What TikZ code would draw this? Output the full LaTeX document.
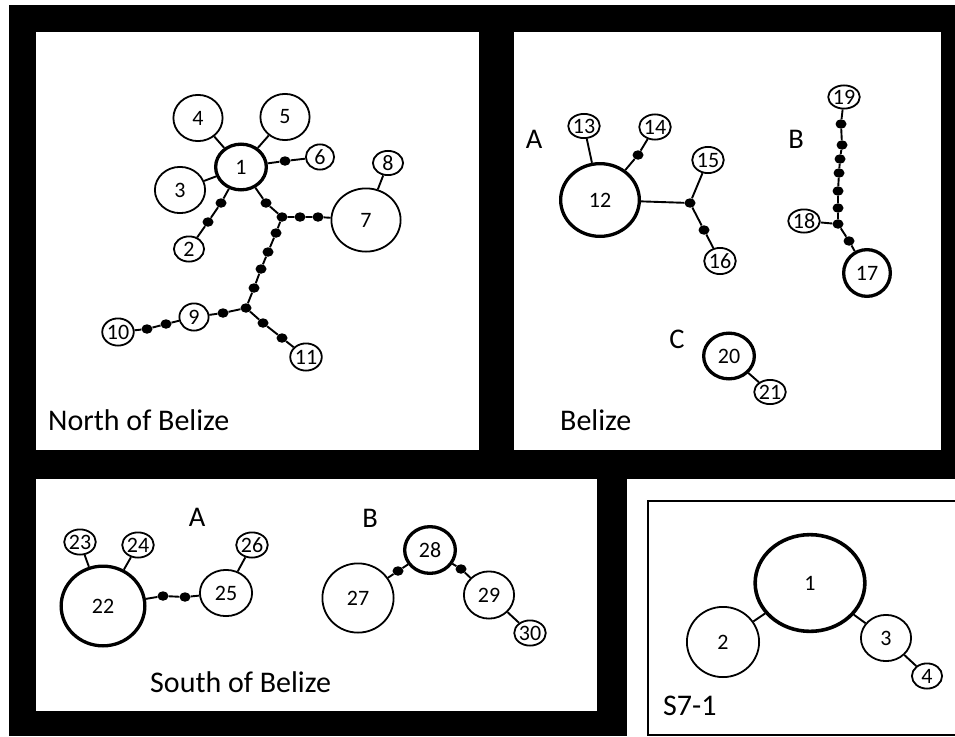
\documentclass[tikz,border=0pt]{standalone}
\usepackage{fontspec}
\setmainfont{Carlito}
\usetikzlibrary{shapes.geometric}
\newcommand\hlab{\fontsize{22}{22}\selectfont}
\newcommand\ptitle{\fontsize{30}{30}\selectfont}
\newcommand\glab{\fontsize{28.5}{28.5}\selectfont}
\tikzset{
  hap/.style 2 args={ellipse, draw, fill=white, line width=1.8pt, inner sep=0pt,
    font=\hlab, minimum width=#1pt-1.8pt, minimum height=#2pt-1.8pt},
  core/.style 2 args={ellipse, draw, fill=white, line width=3.3pt, inner sep=0pt,
    font=\hlab, minimum width=#1pt-3.3pt, minimum height=#2pt-3.3pt},
  mv/.style={ellipse, fill=black, inner sep=0pt, minimum width=11pt, minimum height=9.5pt},
  link/.style={line width=1.9pt},
  ttl/.style={font=\ptitle, anchor=base west, inner sep=0pt},
  grp/.style={font=\glab, inner sep=0pt},
}
\begin{document}
\begin{tikzpicture}[x=1pt, y=-1pt]
\useasboundingbox (0,0) rectangle (955,736);
% frame and panels
\fill[white] (0,0) rectangle (955,736);
\fill[black] (9,5) rectangle (955,736);
\fill[white] (36,32) rectangle (479,450);
\fill[white] (514,32) rectangle (941,450);
\fill[white] (36,479) rectangle (597,711);
\fill[white] (627,479) rectangle (955,736);
\draw[line width=2pt] (955,735) -- (648,735) -- (648,501) -- (955,501);

% ---------- North of Belize ----------
\node[core={54}{49}] (a1) at (241,167) {1};
\node[hap={51}{48}] (a4) at (198,118) {4};
\node[hap={51}{48}] (a5) at (285,117) {5};
\node[hap={52}{48}] (a3) at (180,190) {3};
\node[hap={30}{27}] (a6) at (320,157) {6};
\node[hap={32}{26}] (a8) at (388,163) {8};
\node[hap={71}{65}] (a7) at (366,220) {7};
\node[hap={32}{27}] (a2) at (189,249) {2};
\node[hap={31}{29}] (a9) at (194,317) {9};
\node[hap={32}{29}] (a10) at (118,332) {10};
\node[hap={32}{29}] (a11) at (306,357) {11};
\node[mv] (am6) at (285,161) {};
\node[mv] (am2a) at (221,203) {};
\node[mv] (am2b) at (208,222) {};
\node[mv] (amj) at (266,203) {};
\node[mv] (aja) at (282,217) {};
\node[mv] (am7a) at (300,217) {};
\node[mv] (am7b) at (318,217) {};
\node[mv] (ams1) at (276,233) {};
\node[mv] (ams2) at (268,252) {};
\node[mv] (ams3) at (261,269) {};
\node[mv] (ams4) at (254,288) {};
\node[mv] (ajb) at (246,308) {};
\node[mv] (am9) at (223,313) {};
\node[mv] (am10a) at (166,324) {};
\node[mv] (am10b) at (147,329) {};
\node[mv] (am11a) at (263,323) {};
\node[mv] (am11b) at (282,338) {};
\draw[link] (a1) -- (a4);
\draw[link] (a1) -- (a5);
\draw[link] (a1) -- (a3);
\draw[link] (a1) -- (am6) -- (a6);
\draw[link] (a1) -- (am2a) -- (am2b) -- (a2);
\draw[link] (a1) -- (amj) -- (aja);
\draw[link] (aja) -- (am7a) -- (am7b) -- (a7);
\draw[link] (a7) -- (a8);
\draw[link] (aja) -- (ams1) -- (ams2) -- (ams3) -- (ams4) -- (ajb);
\draw[link] (ajb) -- (am9) -- (a9);
\draw[link] (a9) -- (am10a) -- (am10b) -- (a10);
\draw[link] (ajb) -- (am11a) -- (am11b) -- (a11);
\node[ttl] (tn) at (48,430) {North of Belize};

% ---------- Belize ----------
\node[core={82}{76}] (b12) at (600,200) {12};
\node[hap={32}{26}] (b13) at (584,126) {13};
\node[hap={32}{27}] (b14) at (655,127) {14};
\node[hap={32}{28}] (b15) at (708,160) {15};
\node[hap={31}{28}] (b16) at (720,261) {16};
\node[mv] (bm14) at (638,155) {};
\node[mv] (bj) at (690,203) {};
\node[mv] (bm16) at (704,230) {};
\draw[link] (b12) -- (b13);
\draw[link] (b12) -- (bm14) -- (b14);
\draw[link] (b12) -- (bj) -- (b15);
\draw[link] (bj) -- (bm16) -- (b16);

\node[hap={29}{25}] (b19) at (844,97) {19};
\node[hap={32}{25}] (b18) at (804,221) {18};
\node[core={50}{50}] (b17) at (867,273) {17};
\node[mv] (bs1) at (841,124) {};
\node[mv] (bs2) at (842,145) {};
\node[mv] (bs3) at (840,159) {};
\node[mv] (bs4) at (839,173) {};
\node[mv] (bs5) at (838,191) {};
\node[mv] (bs6) at (838,208) {};
\node[mv] (bsj) at (838,224) {};
\node[mv] (bs7) at (849,241) {};
\draw[link] (b19) -- (bs1) -- (bs2) -- (bs3) -- (bs4) -- (bs5) -- (bs6) -- (bsj);
\draw[link] (bsj) -- (b18);
\draw[link] (bsj) -- (bs7) -- (b17);

\node[core={54}{49}] (b20) at (729,356) {20};
\node[hap={31}{26}] (b21) at (770,392) {21};
\draw[link] (b20) -- (b21);

\node[grp] (gA) at (534,139) {A};
\node[grp] (gB) at (796,139) {B};
\node[grp] (gC) at (677,339) {C};
\node[ttl] (tb) at (560,430) {Belize};

% ---------- South of Belize ----------
\node[core={87}{83}] (c22) at (103,606) {22};
\node[hap={32}{27}] (c23) at (80,542) {23};
\node[hap={32}{27}] (c24) at (138,545) {24};
\node[hap={54}{48}] (c25) at (226,593) {25};
\node[hap={32}{27}] (c26) at (252,545) {26};
\node[mv] (cm1) at (163,596) {};
\node[mv] (cm2) at (185,597) {};
\draw[link] (c22) -- (c23);
\draw[link] (c22) -- (c24);
\draw[link] (c22) -- (cm1) -- (cm2) -- (c25);
\draw[link] (c25) -- (c26);

\node[core={54}{50}] (c28) at (430,550) {28};
\node[hap={73}{71}] (c27) at (358,598) {27};
\node[hap={52}{49}] (c29) at (489,595) {29};
\node[hap={32}{27}] (c30) at (530,633) {30};
\node[mv] (cm27) at (398,571) {};
\node[mv] (cm29) at (461,569) {};
\draw[link] (c27) -- (cm27) -- (c28);
\draw[link] (c28) -- (cm29) -- (c29);
\draw[link] (c29) -- (c30);

\node[grp] (sA) at (197,517) {A};
\node[grp] (sB) at (370,518) {B};
\node[ttl] (ts) at (150,692) {South of Belize};

% ---------- S7-1 ----------
\node[core={113}{100}, line width=3.6pt] (s1) at (810,583) {1};
\node[hap={74}{72}] (s2) at (723,642) {2};
\node[hap={52}{48}] (s3) at (886,638) {3};
\node[hap={32}{27}] (s4) at (927,676) {4};
\draw[link] (s1) -- (s2);
\draw[link] (s1) -- (s3);
\draw[link] (s3) -- (s4);
\node[ttl] (t7) at (663,715) {S7-1};
\end{tikzpicture}
\end{document}
